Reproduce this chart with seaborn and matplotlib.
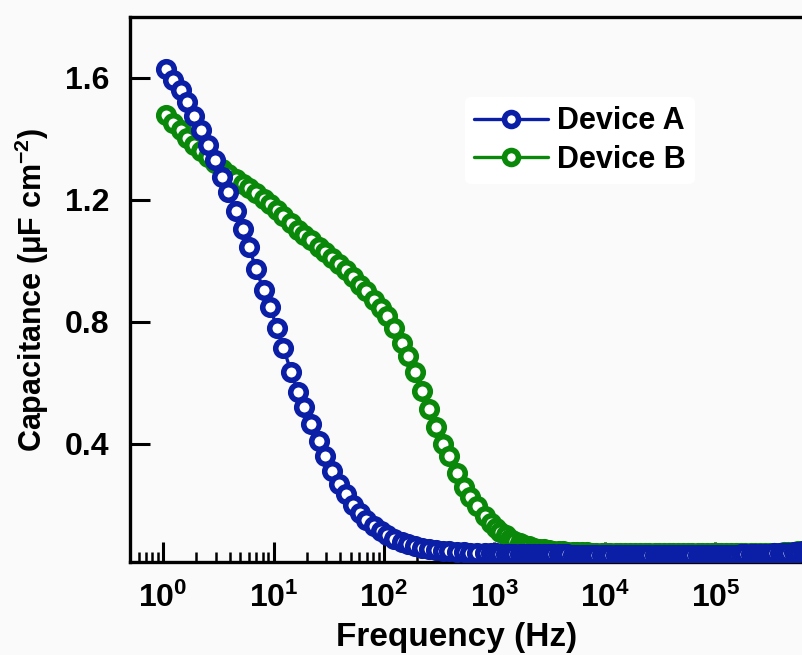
import matplotlib
matplotlib.use("Agg")
import matplotlib.pyplot as plt
import matplotlib.ticker as mticker
import numpy as np
import pandas as pd
import seaborn as sns

# ---------------- data ----------------
log_freq = [0.03, 0.09, 0.16, 0.22, 0.28, 0.34, 0.41, 0.47, 0.53, 0.59, 0.66, 0.72,
            0.78, 0.84, 0.91, 0.97, 1.03, 1.09, 1.16, 1.22, 1.28, 1.34, 1.41, 1.47,
            1.53, 1.59, 1.66, 1.72, 1.78, 1.84, 1.91, 1.97, 2.03, 2.09, 2.16, 2.22,
            2.28, 2.34, 2.41, 2.47, 2.53, 2.59, 2.66, 2.72, 2.78, 2.84, 2.91, 2.97,
            3.01, 3.05, 3.10, 3.14, 3.18, 3.23, 3.27, 3.31, 3.36, 3.40, 3.45, 3.49,
            3.53, 3.58, 3.62, 3.66, 3.71, 3.75, 3.79, 3.84, 3.88, 3.92, 3.97, 4.01, 4.05,
            4.10, 4.14, 4.18, 4.23, 4.27, 4.32, 4.36, 4.40, 4.45, 4.49, 4.53, 4.58,
            4.62, 4.66, 4.71, 4.75, 4.79, 4.84, 4.88, 4.92, 4.97, 5.01,
            5.05, 5.10, 5.14, 5.19, 5.23, 5.27, 5.32, 5.36, 5.40, 5.45, 5.49, 5.53,
            5.58, 5.62, 5.66, 5.71, 5.75, 5.79, 5.84, 5.88]

cap_device_a = [1.63, 1.595, 1.56, 1.52, 1.475, 1.43, 1.38, 1.33, 1.275, 1.225,
                1.165, 1.105, 1.045, 0.975, 0.905, 0.85, 0.78, 0.715, 0.635, 0.57,
                0.52, 0.465, 0.41, 0.36, 0.31, 0.27, 0.235, 0.20, 0.175, 0.152,
                0.132, 0.115, 0.10, 0.09, 0.08, 0.072, 0.065, 0.06, 0.056, 0.053,
                0.05, 0.048, 0.046, 0.045, 0.044, 0.043, 0.042, 0.041,
                0.041, 0.040, 0.040, 0.040, 0.039, 0.039, 0.039, 0.039, 0.038, 0.038, 0.038, 0.038,
                0.038, 0.038, 0.038, 0.038, 0.037, 0.037, 0.037, 0.037, 0.037, 0.037, 0.037, 0.037, 0.037,
                0.037, 0.037, 0.037, 0.037, 0.037, 0.037, 0.037, 0.037, 0.037, 0.037, 0.037,
                0.037, 0.037, 0.037, 0.037, 0.037, 0.037, 0.037, 0.037, 0.037, 0.037, 0.037,
                0.037, 0.037, 0.037, 0.037, 0.038, 0.038, 0.038, 0.039, 0.039, 0.040,
                0.040, 0.041, 0.042, 0.043, 0.044, 0.045, 0.046, 0.048, 0.050, 0.052]

cap_device_b = [1.48, 1.453, 1.428, 1.402, 1.38, 1.36, 1.34, 1.32, 1.30, 1.285,
                1.268, 1.252, 1.238, 1.222, 1.203, 1.187, 1.167, 1.148, 1.123, 1.10,
                1.085, 1.068, 1.047, 1.03, 1.01, 0.99, 0.97, 0.947, 0.922, 0.90,
                0.872, 0.845, 0.818, 0.78, 0.73, 0.69, 0.635, 0.575, 0.515, 0.455,
                0.40, 0.36, 0.305, 0.26, 0.227, 0.195, 0.163, 0.14,
                0.125, 0.113, 0.10, 0.09, 0.082, 0.075, 0.069, 0.064, 0.06, 0.057, 0.054, 0.052,
                0.050, 0.049, 0.048, 0.047, 0.046, 0.046, 0.045, 0.045, 0.044, 0.044, 0.044, 0.043, 0.043,
                0.043, 0.043, 0.043, 0.043, 0.043, 0.043, 0.042, 0.042, 0.042, 0.042, 0.042,
                0.042, 0.042, 0.042, 0.041, 0.041, 0.041, 0.041, 0.041, 0.041, 0.041, 0.041,
                0.041, 0.041, 0.041, 0.041, 0.041, 0.041, 0.041, 0.041, 0.042, 0.042,
                0.043, 0.043, 0.044, 0.045, 0.046, 0.047, 0.048, 0.050, 0.052, 0.054]

series_names = ["Device A", "Device B"]
series_colors = ["#0a1ea6", "#0a880a"]
y_ticks = [0.4, 0.8, 1.2, 1.6]
x_major_exps = [0, 1, 2, 3, 4, 5]

# ---------------- style ----------------
sns.set_style("ticks")
plt.rcParams["font.family"] = ["Liberation Sans", "DejaVu Sans"]
plt.rcParams["font.weight"] = "bold"
plt.rcParams["text.color"] = "black"
plt.rcParams["axes.labelcolor"] = "black"
plt.rcParams["xtick.color"] = "black"
plt.rcParams["ytick.color"] = "black"
plt.rcParams["mathtext.fontset"] = "custom"
plt.rcParams["mathtext.rm"] = "Liberation Sans:bold"
plt.rcParams["mathtext.bf"] = "Liberation Sans:bold"
plt.rcParams["mathtext.it"] = "Liberation Sans:bold:italic"

bg = "#fafafa"
fig = plt.figure(figsize=(8.03, 6.55), dpi=100, facecolor=bg)
ax = fig.add_axes([130 / 803, 93 / 655, 718 / 803, 545 / 655])
ax.set_facecolor(bg)

freq = 10 ** np.array(log_freq)
df = pd.DataFrame({
    "Frequency": np.concatenate([freq, freq]),
    "Capacitance": np.concatenate([cap_device_a, cap_device_b]),
    "Device": [series_names[0]] * len(freq) + [series_names[1]] * len(freq),
})

# Device B drawn first so Device A sits on top
lines = {}
for name, color, z in [(series_names[1], series_colors[1], 3), (series_names[0], series_colors[0], 4)]:
    sub = df[df["Device"] == name]
    n_before = len(ax.lines)
    sns.lineplot(data=sub, x="Frequency", y="Capacitance", ax=ax, color=color,
                 marker="o", estimator=None, sort=False, label=name, zorder=z,
                 legend=False)
    ln = ax.lines[n_before]
    ln.set_markersize(11.2)
    ln.set_markeredgewidth(4.0)
    ln.set_markerfacecolor("white")
    ln.set_markeredgecolor(color)
    ln.set_color(color)
    ln.set_linewidth(2.4)
    ln.set_label(name)
    lines[name] = ln

ax.set_xscale("log")
ax.set_xlim(10 ** -0.299, 10 ** 6.2)
ax.set_ylim(0.013, 1.80)
ax.set_axisbelow(True)

ax.xaxis.set_major_locator(mticker.FixedLocator([10.0 ** e for e in x_major_exps]))
ax.xaxis.set_major_formatter(mticker.FuncFormatter(
    lambda v, p: r"$\mathbf{10^{%d}}$" % int(round(np.log10(v)))))
ax.xaxis.set_minor_locator(mticker.LogLocator(base=10, subs=np.arange(2, 10), numticks=30))
ax.xaxis.set_minor_formatter(mticker.NullFormatter())
ax.set_yticks(y_ticks)
ax.set_yticklabels([f"{t:.1f}" for t in y_ticks])

ax.tick_params(axis="both", which="major", direction="in", length=14.4, width=2.2,
               labelsize=23, pad=15, colors="black")
ax.tick_params(axis="x", which="minor", direction="in", length=7, width=1.8)
ax.tick_params(axis="y", which="minor", length=0)
ax.tick_params(top=False, right=False)

for side in ["left", "bottom", "top", "right"]:
    ax.spines[side].set_linewidth(2.4)
    ax.spines[side].set_color("black")

ax.set_xlabel("Frequency (Hz)", fontsize=24, fontweight="bold")
ax.set_ylabel("Capacitance (μF cm$^{\\mathbf{-2}}$)", fontsize=22, fontweight="bold")
ax.xaxis.set_label_coords(0.455, -0.138)
ax.yaxis.set_label_coords(-0.137, 0.499)
ax.xaxis.label.set_va("center")
ax.yaxis.label.set_va("center")

leg = ax.legend(handles=[lines[series_names[0]], lines[series_names[1]]],
                labels=series_names,
                loc="upper left", bbox_to_anchor=((450 - 130) / 718, (562 - 82) / 545),
                fontsize=22, frameon=True, handlelength=2.4, handletextpad=0.3,
                labelspacing=0.28, borderpad=0.3, markerscale=0.9)
leg.get_frame().set_facecolor("white")
leg.get_frame().set_edgecolor("none")
leg.get_frame().set_alpha(1)
for t in leg.get_texts():
    t.set_fontweight("bold")

fig.savefig("out.png", dpi=100, facecolor=bg)
